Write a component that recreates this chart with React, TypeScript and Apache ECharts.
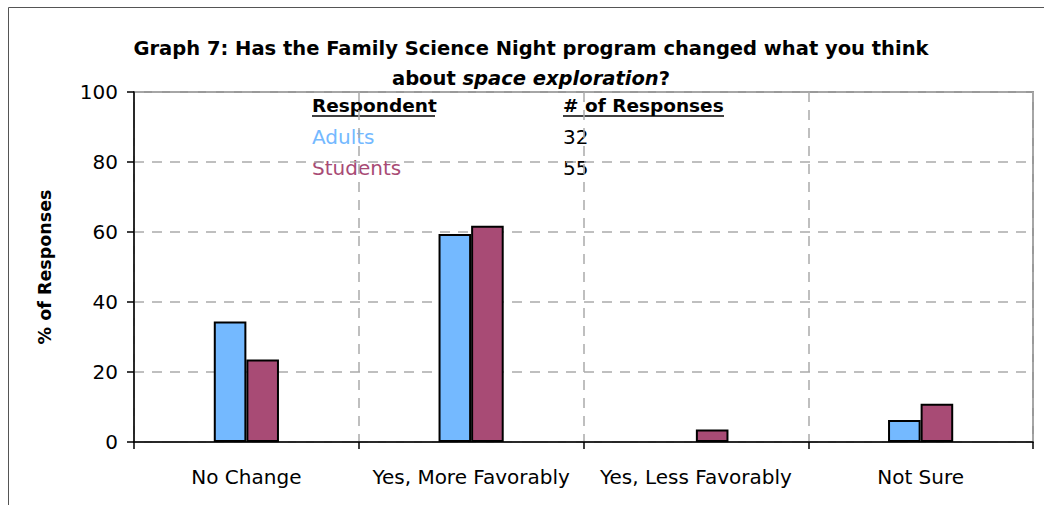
import React, { useEffect, useRef } from "react";
import * as echarts from "echarts";

const categories = ["No Change", "Yes, More Favorably", "Yes, Less Favorably", "Not Sure"];
const adults = [34.4, 59.4, 0, 6.3];
const students = [23.6, 61.8, 3.6, 10.9];
const yTicks = { min: 0, max: 100, interval: 20 };
const legendRows = [
  { name: "Adults", count: "32", color: "#74B9FF" },
  { name: "Students", count: "55", color: "#A84B75" },
];

const FONT = "DejaVu Sans";

const toData = (arr: number[]) => arr.map((v) => (v === 0 ? { value: v, itemStyle: { borderWidth: 0, opacity: 0 } } : v));

export default function App() {
  const ref = useRef<HTMLDivElement>(null);
  useEffect(() => {
    const chart = echarts.init(ref.current!, null, { renderer: "svg" });
    const graphics: any[] = [
      { type: "rect", shape: { x: 8.5, y: 7.5, width: 1100, height: 600 }, style: { fill: "none", stroke: "#555", lineWidth: 1 }, silent: true, z: -10 },
      { type: "text", x: 531, y: 48, style: { text: "Graph 7: Has the Family Science Night program changed what you think", font: `bold 19.5px "${FONT}"`, fill: "#000", textAlign: "center", textVerticalAlign: "middle" } },
      {
        type: "text", x: 531, y: 78, style: {
          text: "about {i|space exploration}?", font: `bold 19.5px "${FONT}"`, fill: "#000", textAlign: "center", textVerticalAlign: "middle",
          rich: { i: { fontStyle: "italic", fontWeight: "bold", fontSize: 19.5, fontFamily: FONT } },
        },
      },
      { type: "text", x: 312, y: 105, style: { text: "Respondent", font: `bold 18.5px "${FONT}"`, fill: "#000", textVerticalAlign: "middle" } },
      { type: "text", x: 563, y: 105, style: { text: "# of Responses", font: `bold 18.5px "${FONT}"`, fill: "#000", textVerticalAlign: "middle" } },
      { type: "line", shape: { x1: 312, y1: 116, x2: 435, y2: 116 }, style: { stroke: "#000", lineWidth: 1.5 } },
      { type: "line", shape: { x1: 563, y1: 116, x2: 724, y2: 116 }, style: { stroke: "#000", lineWidth: 1.5 } },
    ];
    legendRows.forEach((r, i) => {
      graphics.push({ type: "text", x: 312, y: 137 + i * 31, style: { text: r.name, font: `20px "${FONT}"`, fill: r.color, textVerticalAlign: "middle" } });
      graphics.push({ type: "text", x: 563, y: 137 + i * 31, style: { text: r.count, font: `20px "${FONT}"`, fill: "#000", textVerticalAlign: "middle" } });
    });

    chart.setOption({
      animation: false,
      grid: { left: 134, top: 92, right: 11, bottom: 63, show: true, borderColor: "#999", borderWidth: 2, backgroundColor: "transparent" },
      xAxis: {
        type: "category",
        data: categories,
        axisLine: { lineStyle: { color: "#000", width: 1.5 } },
        axisTick: { show: true, length: 7, lineStyle: { color: "#000", width: 1.5 } },
        axisLabel: { fontFamily: FONT, fontSize: 20, color: "#000", margin: 25, interval: 0 },
        splitLine: { show: true, lineStyle: { color: "#aaa", type: [10, 8], width: 1.5 } },
      },
      yAxis: {
        type: "value",
        min: yTicks.min,
        max: yTicks.max,
        interval: yTicks.interval,
        name: "% of Responses",
        nameLocation: "middle",
        nameRotate: 90,
        nameGap: 80,
        nameTextStyle: { fontFamily: FONT, fontSize: 17.5, fontWeight: "bold", color: "#000" },
        axisLine: { show: true, lineStyle: { color: "#000", width: 1.5 } },
        axisTick: { show: true, length: 7, lineStyle: { color: "#000", width: 1.5 } },
        axisLabel: { fontFamily: FONT, fontSize: 20, color: "#000", margin: 16 },
        splitLine: { show: true, lineStyle: { color: "#aaa", type: [10, 8], width: 1.5 } },
      },
      series: [
        { name: "Adults", type: "bar", data: toData(adults), barWidth: "14.5%", barGap: "0%", itemStyle: { color: legendRows[0].color, borderColor: "#000", borderWidth: 2 } },
        { name: "Students", type: "bar", data: toData(students), barWidth: "14.5%", barGap: "0%", itemStyle: { color: legendRows[1].color, borderColor: "#000", borderWidth: 2 } },
      ],
      graphic: graphics,
    });
    return () => chart.dispose();
  }, []);
  return <div ref={ref} style={{ position: "absolute", left: 0, top: 0, width: 1044, height: 505, background: "#fff" }} />;
}
